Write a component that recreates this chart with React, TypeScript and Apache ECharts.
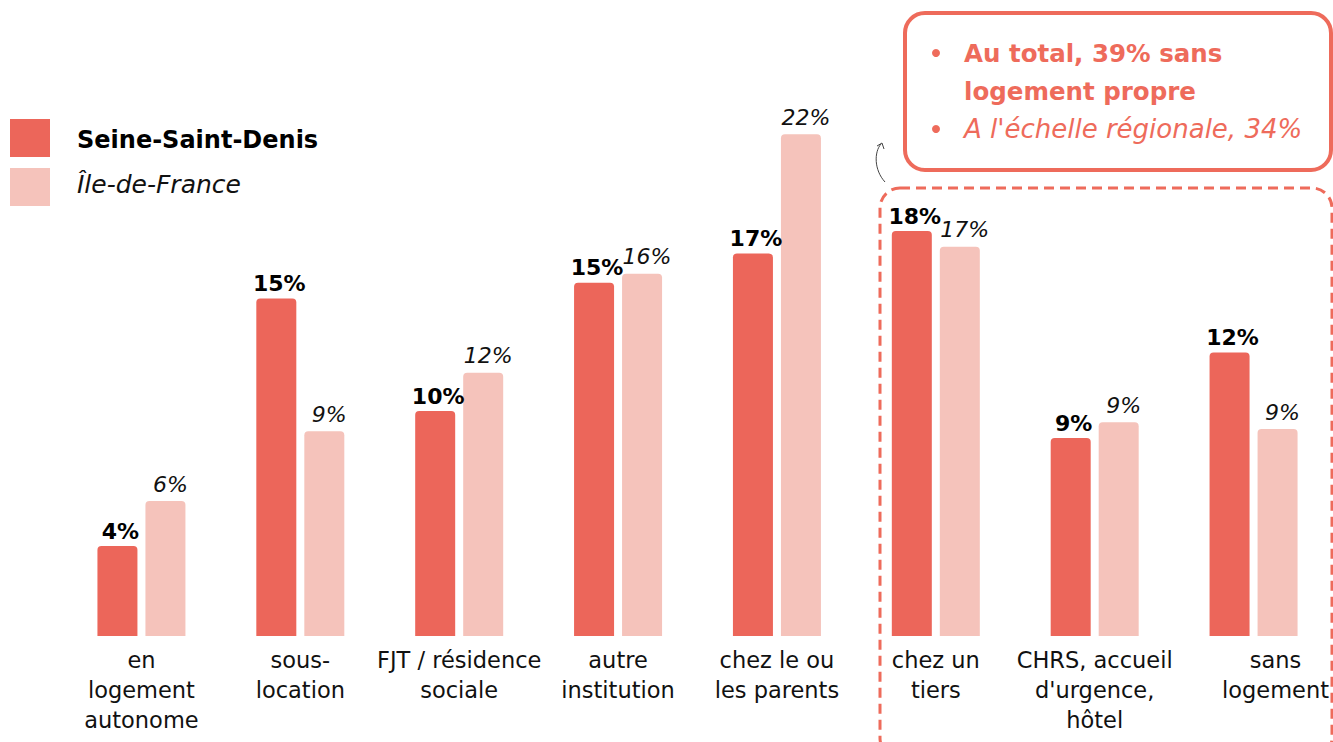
import React, { useEffect, useRef } from "react";
import * as echarts from "echarts";

const categories = [
  "en\nlogement\nautonome",
  "sous-\nlocation",
  "FJT / résidence\nsociale",
  "autre\ninstitution",
  "chez le ou\nles parents",
  "chez un\ntiers",
  "CHRS, accueil\nd'urgence,\nhôtel",
  "sans\nlogement",
];
const seriesNames = ["Seine-Saint-Denis", "Île-de-France"];
const ssdValues = [4.0, 15.0, 10.0, 15.7, 17.0, 18.0, 8.8, 12.6];
const idfValues = [6.0, 9.1, 11.7, 16.1, 22.3, 17.3, 9.5, 9.2];
const ssdLabels = ["4%", "15%", "10%", "15%", "17%", "18%", "9%", "12%"];
const idfLabels = ["6%", "9%", "12%", "16%", "22%", "17%", "9%", "9%"];
const noteLines = ["Au total, 39% sans", "logement propre", "A l'échelle régionale, 34%"];

const RED = "#EC665A";
const PINK = "#F5C3BB";
const ACCENT = "#EE6B5B";
const FONT = "'DejaVu Sans', 'Noto Sans', sans-serif";

export default function App() {
  const ref = useRef<HTMLDivElement>(null);
  useEffect(() => {
    if (!ref.current) return;
    const chart = echarts.init(ref.current, undefined, { renderer: "svg" });
    const xData = categories.map((c, i) =>
      i === categories.length - 1 ? { value: c, textStyle: { padding: [0, 0, 0, 44] } } : c
    );
    chart.setOption({
      animation: false,
      backgroundColor: "#ffffff",
      textStyle: { fontFamily: FONT },
      grid: { left: 62, right: 0, top: 73.5, bottom: 106, containLabel: false },
      legend: {
        orient: "vertical",
        left: 10,
        top: 119,
        padding: 0,
        itemWidth: 40,
        itemHeight: 38,
        itemGap: 11,
        icon: "rect",
        selectedMode: false,
        data: seriesNames,
        formatter: (n: string) => (n === seriesNames[0] ? `{b|${n}}` : `{i|${n}}`),
        textStyle: {
          padding: [0, 0, 0, 22],
          rich: {
            b: { fontFamily: FONT, fontSize: 24, fontWeight: "bold", color: "#000", padding: [4, 0, 0, 0] },
            i: { fontFamily: FONT, fontSize: 25, fontStyle: "italic", color: "#111", padding: [0, 0, 6, 0] },
          },
        },
      },
      xAxis: {
        type: "category",
        data: xData,
        axisLine: { show: false },
        axisTick: { show: false },
        axisLabel: {
          interval: 0,
          margin: 9,
          fontFamily: FONT,
          fontSize: 22.5,
          lineHeight: 30,
          color: "#111",
        },
      },
      yAxis: { type: "value", min: 0, max: 25, show: false, splitLine: { show: false } },
      series: [
        {
          name: seriesNames[0],
          type: "bar",
          data: ssdValues,
          barWidth: 40,
          barGap: "20%",
          itemStyle: { color: RED, borderRadius: [4, 4, 0, 0] },
          label: {
            show: true,
            position: "top",
            distance: 4,
            offset: [3, 0],
            formatter: (p: any) => ssdLabels[p.dataIndex],
            fontFamily: FONT,
            fontSize: 22,
            fontWeight: "bold",
            color: "#000",
          },
        },
        {
          name: seriesNames[1],
          type: "bar",
          data: idfValues,
          barWidth: 40,
          itemStyle: { color: PINK, borderRadius: [4, 4, 0, 0] },
          label: {
            show: true,
            position: "top",
            distance: 6,
            offset: [5, 0],
            formatter: (p: any) => idfLabels[p.dataIndex],
            fontFamily: FONT,
            fontSize: 22,
            fontStyle: "italic",
            color: "#111",
          },
        },
      ],
      graphic: [
        {
          type: "rect",
          shape: { x: 880, y: 188, width: 452, height: 570, r: 20 },
          style: { fill: "none", stroke: ACCENT, lineWidth: 3, lineDash: [10, 6] },
          z: 1,
        },
        {
          type: "rect",
          shape: { x: 905, y: 13, width: 426, height: 157, r: 20 },
          style: { fill: "#fff", stroke: ACCENT, lineWidth: 4 },
          z: 10,
        },
        { type: "circle", shape: { cx: 936, cy: 53, r: 4 }, style: { fill: ACCENT }, z: 11 },
        { type: "circle", shape: { cx: 936, cy: 129, r: 4 }, style: { fill: ACCENT }, z: 11 },
        {
          type: "text",
          x: 964,
          y: 53,
          style: { text: noteLines[0], font: `bold 24.5px ${FONT}`, fill: ACCENT, verticalAlign: "middle" },
          z: 11,
        },
        {
          type: "text",
          x: 964,
          y: 91,
          style: { text: noteLines[1], font: `bold 24.5px ${FONT}`, fill: ACCENT, verticalAlign: "middle" },
          z: 11,
        },
        {
          type: "text",
          x: 964,
          y: 129,
          style: { text: noteLines[2], font: `italic 26px ${FONT}`, fill: ACCENT, verticalAlign: "middle" },
          z: 11,
        },
        {
          type: "bezierCurve",
          shape: { x1: 885, y1: 182, x2: 881, y2: 144, cpx1: 874, cpy1: 170, cpx2: 874, cpy2: 152 },
          style: { stroke: "#444", lineWidth: 1, fill: "none" },
          z: 11,
        },
        {
          type: "polyline",
          shape: { points: [[877, 146], [882, 143], [884, 149]] },
          style: { stroke: "#444", lineWidth: 1, fill: "none" },
          z: 11,
        },
      ],
    });
    return () => chart.dispose();
  }, []);
  return <div ref={ref} style={{ width: 1333, height: 742, position: "absolute", left: 0, top: 0 }} />;
}
